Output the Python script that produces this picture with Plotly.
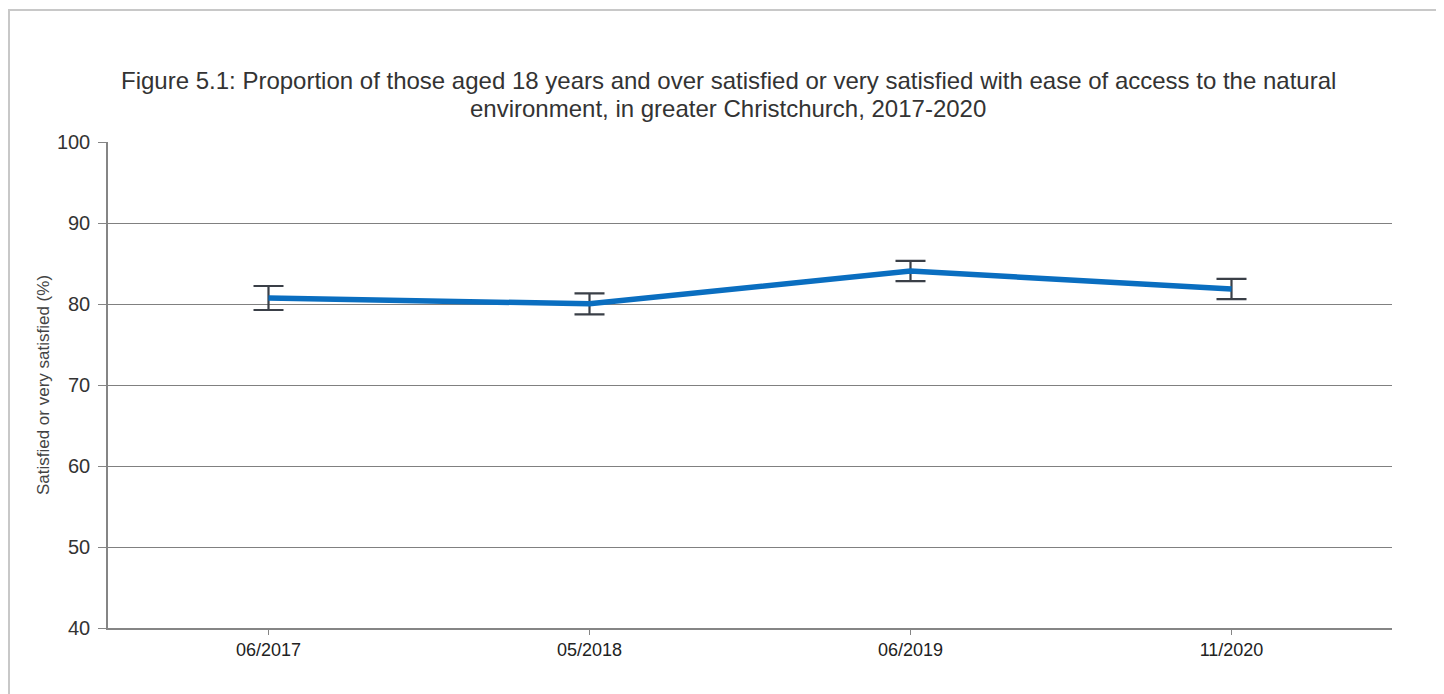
import plotly.graph_objects as go

categories = ["06/2017", "05/2018", "06/2019", "11/2020"]
values = [80.74, 80.02, 84.07, 81.85]
errors = [1.48, 1.3, 1.25, 1.25]
title_line1 = ("Figure 5.1: Proportion of those aged 18 years and over satisfied or very satisfied "
               "with ease of access to the natural")
title_line2 = "environment, in greater Christchurch, 2017-2020"
y_title = "Satisfied or very satisfied (%)"

# page is rendered with an 8px body margin
W, H = 1436, 686
L, R, T, B = 100, 52, 134, 66
pw, ph = W - L - R, H - T - B

fig = go.Figure()
fig.add_trace(go.Scatter(
    x=categories, y=values, mode="lines",
    line=dict(color="#0a6ec0", width=5.5),
    error_y=dict(type="data", array=errors, visible=True,
                 color="#3a3f47", thickness=2.2, width=15),
    hoverinfo="x+y", showlegend=False,
))

fig.update_layout(
    width=W, height=H,
    margin=dict(l=L, r=R, t=T, b=B),
    paper_bgcolor="white", plot_bgcolor="white",
    font=dict(family="Liberation Sans, Arial, sans-serif", color="#333333"),
    xaxis=dict(type="category", range=[-0.5, 3.5], showgrid=False,
               showline=True, linecolor="#858585", linewidth=1.5,
               ticks="outside", ticklen=5, tickcolor="#858585",
               tickfont=dict(size=18, color="#222222"), zeroline=False),
    yaxis=dict(range=[40, 100], dtick=10, showgrid=True, gridcolor="#808080",
               gridwidth=1, showline=True, linecolor="#858585", linewidth=1.5,
               ticks="outside", ticklen=8, tickcolor="#858585",
               ticklabelstandoff=4,
               tickfont=dict(size=20, color="#333333"), zeroline=False,
               title=dict(text=y_title, font=dict(size=17, color="#444444"),
                          standoff=3)),
)

xc = (720 - L) / pw
for txt, yfig in [(title_line1, 72), (title_line2, 100)]:
    fig.add_annotation(text=txt, xref="paper", yref="paper",
                       x=xc, y=1 + (T - yfig) / ph, xanchor="center", yanchor="middle",
                       showarrow=False, font=dict(size=24, color="#333333"))

# outer border frame
fig.add_shape(type="rect", xref="paper", yref="paper",
              x0=(1 - L) / pw, x1=(1429 - L) / pw,
              y0=-0.3, y1=1 + (T - 2) / ph,
              line=dict(color="#c8c8c8", width=2), fillcolor="rgba(0,0,0,0)",
              layer="below")

fig.write_html("out.html")
